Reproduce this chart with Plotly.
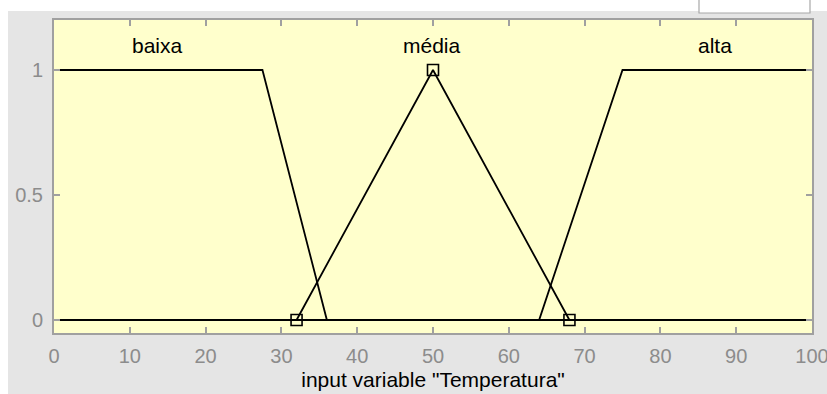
import plotly.graph_objects as go

# Membership functions of input variable "Temperatura"
baixa_x = [0, 27.5, 36, 100]
baixa_y = [1, 1, 0, 0]
media_x = [0, 32, 50, 68, 100]
media_y = [0, 0, 1, 0, 0]
media_params_x = [32, 50, 68]
media_params_y = [0, 1, 0]
alta_x = [0, 64, 75, 100]
alta_y = [0, 0, 1, 1]

mf_names = ["baixa", "média", "alta"]
mf_label_x = [13.6, 49.9, 87.2]
mf_label_y = [1.1, 1.1, 1.1]

x_ticks = [0, 10, 20, 30, 40, 50, 60, 70, 80, 90, 100]
y_ticks = [0, 0.5, 1]
y_tick_text = ["0", "0.5", "1"]

W, H = 827, 394
L, R, T, B = 54, 15, 20, 61
PW, PH = W - L - R, H - T - B
FONT = "Liberation Sans, Arial"


def px(x):
    return (x - L) / PW


def py(y):
    return (H - B - y) / PH


fig = go.Figure()
line = dict(color="black", width=1.8)
fig.add_trace(go.Scatter(x=baixa_x, y=baixa_y, mode="lines", line=line, showlegend=False))
fig.add_trace(go.Scatter(x=media_x, y=media_y, mode="lines", line=line, showlegend=False))
fig.add_trace(go.Scatter(x=alta_x, y=alta_y, mode="lines", line=line, showlegend=False))
fig.add_trace(go.Scatter(x=media_params_x, y=media_params_y, mode="markers",
                         marker=dict(symbol="square-open", size=11, color="black",
                                     line=dict(width=1.6, color="black")),
                         showlegend=False))

for name, lx, ly in zip(mf_names, mf_label_x, mf_label_y):
    fig.add_annotation(x=lx, y=ly, text=name, showarrow=False,
                       font=dict(family=FONT, size=21, color="black"))

shapes = [
    dict(type="rect", xref="paper", yref="paper", x0=px(8), x1=px(W + 5), y0=py(H + 5), y1=py(11),
         fillcolor="#e5e5e5", line=dict(width=0), layer="below"),
    dict(type="rect", xref="paper", yref="paper", x0=px(699), x1=px(810), y0=py(13), y1=py(-5),
         fillcolor="white", line=dict(width=1.2, color="#a8a8a8"), layer="below"),
    dict(type="rect", xref="paper", yref="paper", x0=0, x1=1, y0=0, y1=1,
         fillcolor="#ffffcc", line=dict(width=0), layer="below"),
]

axis_common = dict(showgrid=False, zeroline=False, showline=True, linecolor="#a0a0a0",
                   linewidth=2, mirror="ticks", ticks="inside", ticklen=6, tickcolor="#a0a0a0",
                   tickwidth=1.5, automargin=False, ticklabeloverflow="allow",
                   tickfont=dict(family=FONT, size=20, color="#8c8c8c"))

fig.update_layout(
    width=W, height=H,
    margin=dict(l=L, r=R, t=T, b=B, pad=0),
    paper_bgcolor="white",
    plot_bgcolor="rgba(0,0,0,0)",
    shapes=shapes,
    xaxis=dict(range=[0, 100], tickvals=x_ticks, ticktext=[str(v) for v in x_ticks],
               ticklabelstandoff=4,
               title=dict(text='input variable "Temperatura"', standoff=6,
                          font=dict(family=FONT, size=21, color="black")),
               **axis_common),
    yaxis=dict(range=[-0.052, 1.2], tickvals=y_ticks, ticktext=y_tick_text,
               ticklabelstandoff=5, **axis_common),
)

fig.write_html("out.html")
